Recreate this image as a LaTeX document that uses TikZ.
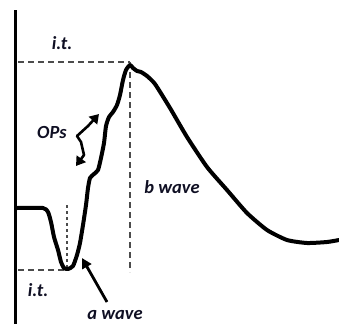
\documentclass[tikz,border=0pt]{standalone}
\usepackage{fontspec}
\setmainfont{Carlito}
\usetikzlibrary{arrows.meta}
\definecolor{lbl}{RGB}{15,15,35}
\definecolor{dashgray}{RGB}{75,75,75}
\tikzset{
  lab/.style={font=\fontsize{18.5}{21}\selectfont\bfseries\itshape, text=lbl, inner sep=0pt},
  guide/.style={draw=dashgray, line width=1.8pt, dash pattern=on 6pt off 4pt},
  guidefine/.style={draw=dashgray, line width=1.6pt, dash pattern=on 3pt off 3pt},
  wave/.style={line width=4pt, line join=round, line cap=round},
  pointer/.style={line width=2.8pt, -{Triangle[length=10pt,width=10pt]}},
}
\begin{document}
\begin{tikzpicture}[x=1pt,y=-1pt]
\useasboundingbox (0,0) rectangle (339,324);
% axis
\draw[line width=3pt] (15,10) -- (15,324);
% guides
\coordinate (tl) at (18,62);
\coordinate (peak) at (130,62);
\coordinate (pb) at (130,272);
\coordinate (bl) at (18,270);
\coordinate (trough) at (66,270);
\coordinate (tt) at (67,205);
\draw[guide] (tl) -- (peak);
\draw[guide] (peak) -- (pb);
\draw[guide] (bl) -- (trough);
\draw[guidefine] (tt) -- (67,268);
% waveform
\draw[wave] plot[smooth, tension=0.35] coordinates {
(17,208) (43,208) (48,212) (51,222) (54,237) (58,250) (61,262) (64,268) (68,269)
(73,266) (77,255) (80,243) (83,225) (86,205) (88,188) (90,178) (94,174) (98,170)
(101,158) (104,143) (106,126) (109,117) (113,112) (117,105) (120,95) (123,80)
(126,70) (130,65) (133,68) (137,71) (141,72) (147,76) (155,84) (170,108) (187,137)
(207,167) (227,190) (247,213) (267,230) (287,240) (307,243) (327,242) (339,240)};
% labels
\node[lab] (it1) at (62,43) {i.t.};
\node[lab] (it2) at (38,290) {i.t.};
\node[lab] (aw) at (115,315) {a wave};
\node[lab] (bw) at (172,187) {b wave};
\node[lab] (ops) at (52,132) {OPs};
% a wave pointer
\coordinate (atail) at (107,302);
\coordinate (atip) at (82,258);
\draw[pointer] (atail) -- (atip);
% OPs double arrow
\coordinate (optop) at (99,114);
\coordinate (opbot) at (76,166);
\draw[line width=2.6pt, line join=round, {Triangle[length=9pt,width=11pt]}-{Triangle[length=9pt,width=11pt]}]
  (opbot) -- (84,155) -- (81,142) -- (77,136) -- (88,126) -- (optop);
\end{tikzpicture}
\end{document}
